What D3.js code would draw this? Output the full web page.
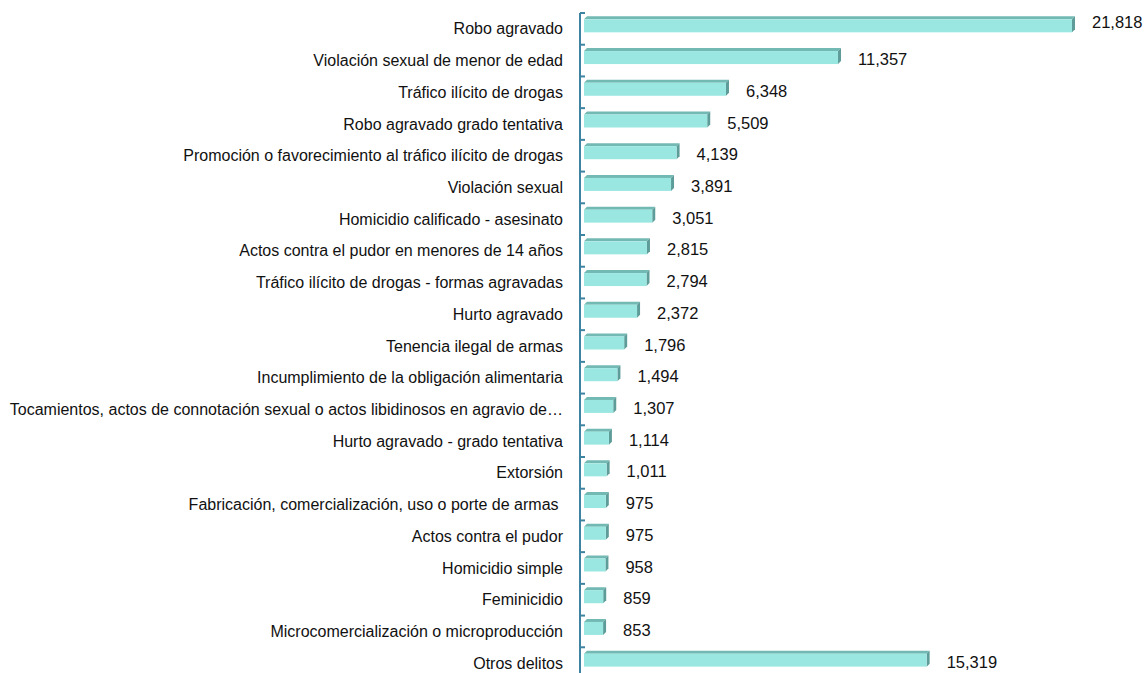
<!DOCTYPE html>
<html>
<head>
<meta charset="utf-8">
<script src="https://cdn.jsdelivr.net/npm/d3@7"></script>
<style>
  body { margin: 0; background: #fff; }
  text { font-family: "Liberation Sans", Arial, sans-serif; fill: #111; }
</style>
</head>
<body>
<div id="chart"></div>
<script>
// categories, top to bottom
var categories = [
  "Robo agravado",
  "Violación sexual de menor de edad",
  "Tráfico ilícito de drogas",
  "Robo agravado grado tentativa",
  "Promoción o favorecimiento al tráfico ilícito de drogas",
  "Violación sexual",
  "Homicidio calificado - asesinato",
  "Actos contra el pudor en menores de 14 años",
  "Tráfico ilícito de drogas - formas agravadas",
  "Hurto agravado",
  "Tenencia ilegal de armas",
  "Incumplimiento de la obligación alimentaria",
  "Tocamientos, actos de connotación sexual o actos libidinosos en agravio de…",
  "Hurto agravado - grado tentativa",
  "Extorsión",
  "Fabricación, comercialización, uso o porte de armas\u00a0",
  "Actos contra el pudor",
  "Homicidio simple",
  "Feminicidio",
  "Microcomercialización o microproducción",
  "Otros delitos"
];
var values = [21818, 11357, 6348, 5509, 4139, 3891, 3051, 2815, 2794, 2372,
  1796, 1494, 1307, 1114, 1011, 975, 975, 958, 859, 853, 15319];
var valueLabels = ["21,818", "11,357", "6,348", "5,509", "4,139", "3,891", "3,051",
  "2,815", "2,794", "2,372", "1,796", "1,494", "1,307", "1,114", "1,011",
  "975", "975", "958", "859", "853", "15,319"];

var W = 1147, H = 673;
var axisX = 580, depth = 3;

var svg = d3.select("#chart").append("svg")
  .attr("width", W).attr("height", H);

var x = d3.scaleLinear()
  .domain([0, 21818])
  .range([584, 1072]);

var y = d3.scaleBand()
  .domain(categories)
  .range([13, 679])
  .paddingInner(0).paddingOuter(0);

var step = y.step();
var barTop = step * 0.2;   // front face top offset within band
var barH = step * 0.41;

var rows = categories.map(function(c, i) {
  return {cat: c, value: values[i], label: valueLabels[i], i: i};
});

var g = svg.append("g");

// top face
g.selectAll("path.top").data(rows).enter().append("path")
  .attr("class", "top")
  .attr("fill", "#72b8b3")
  .attr("d", function(d) {
    var x0 = x(0), x1 = x(d.value), yt = y(d.cat) + barTop;
    return "M" + x0 + "," + yt + "L" + (x0 + depth) + "," + (yt - depth) +
      "L" + (x1 + depth) + "," + (yt - depth) + "L" + x1 + "," + yt + "Z";
  });

// side face
g.selectAll("path.side").data(rows).enter().append("path")
  .attr("class", "side")
  .attr("fill", "#5d9c98")
  .attr("d", function(d) {
    var x1 = x(d.value), yt = y(d.cat) + barTop, yb = yt + barH;
    return "M" + x1 + "," + yt + "L" + (x1 + depth) + "," + (yt - depth) +
      "L" + (x1 + depth) + "," + (yb - depth) + "L" + x1 + "," + yb + "Z";
  });

// front face
g.selectAll("rect.front").data(rows).enter().append("rect")
  .attr("class", "front")
  .attr("x", x(0))
  .attr("y", function(d) { return y(d.cat) + barTop; })
  .attr("width", function(d) { return x(d.value) - x(0); })
  .attr("height", barH)
  .attr("fill", "#9ae7e2");

// axis line + ticks at band boundaries
var axisColor = "#3f83a3";
svg.append("line")
  .attr("x1", axisX).attr("x2", axisX)
  .attr("y1", y.range()[0]).attr("y2", y.range()[1])
  .attr("stroke", axisColor).attr("stroke-width", 2);
var bounds = categories.map(function(c) { return y(c); }).concat([y.range()[1]]);
svg.selectAll("line.tick").data(bounds).enter().append("line")
  .attr("class", "tick")
  .attr("x1", axisX).attr("x2", axisX + 5)
  .attr("y1", function(d) { return d; }).attr("y2", function(d) { return d; })
  .attr("stroke", axisColor).attr("stroke-width", 2);

// category labels
svg.selectAll("text.cat").data(rows).enter().append("text")
  .attr("class", "cat")
  .attr("x", 563)
  .attr("y", function(d) { return y(d.cat) + step / 2; })
  .attr("dy", "0.35em")
  .attr("text-anchor", "end")
  .style("font-size", "16px")
  .style("white-space", "pre")
  .text(function(d) { return d.cat; });

// value labels (first one sits a bit higher, as in the original)
svg.selectAll("text.val").data(rows).enter().append("text")
  .attr("class", "val")
  .attr("x", function(d) { return x(d.value) + depth + 17; })
  .attr("y", function(d) { return y(d.cat) + (d.i === 0 ? step * 0.28 : step * 0.46); })
  .attr("dy", "0.35em")
  .style("font-size", "16.5px")
  .text(function(d) { return d.label; });
</script>
</body>
</html>
